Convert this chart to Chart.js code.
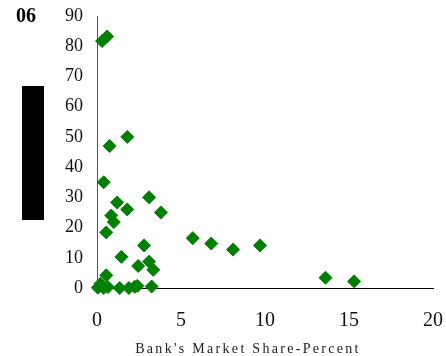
<!DOCTYPE html>
<html>
<head>
<meta charset="utf-8">
<script src="https://cdn.jsdelivr.net/npm/chart.js@4.4.1/dist/chart.umd.min.js"></script>
<style>
  html, body { margin: 0; padding: 0; background: #ffffff; }
  #wrap { width: 446px; height: 356px; position: relative; }
</style>
</head>
<body>
<div id="wrap"><canvas id="chart" width="446" height="356"></canvas></div>
<script>
// Bank market share (percent) against the plotted value for each bank
const shares = [0.3, 0.6, 1.8, 0.75, 0.4, 3.1, 1.2, 1.8, 3.8, 0.85, 1.0, 0.55,
                5.7, 6.8, 2.8, 9.7, 8.1, 1.45, 3.1, 2.45, 3.35, 0.55, 13.6, 15.3,
                0.05, 0.25, 0.4, 0.65, 1.35, 1.9, 2.25, 2.4, 3.25, 0.2];
const values = [81.7, 83.2, 50, 47, 35, 30, 28.3, 26, 25, 24, 21.8, 18.4,
                16.5, 14.7, 14.1, 14.1, 12.7, 10.3, 8.7, 7.3, 6.0, 4.2, 3.4, 2.2,
                0.1, 0.8, 0.0, 0.3, 0.0, 0.0, 0.4, 0.7, 0.5, 1.4];
const xTicks = [0, 5, 10, 15, 20];
const yTicks = [0, 10, 20, 30, 40, 50, 60, 70, 80, 90];
const xTitle = "Bank's Market Share-Percent";
const cornerLabel = "06";

const points = shares.map((s, i) => ({ x: s, y: values[i] }));
const serif = "'Liberation Serif', 'DejaVu Serif', serif";

// Extra text and the masked axis-title block
const decorations = {
  id: 'decorations',
  afterDraw(chart) {
    const ctx = chart.ctx;
    ctx.save();
    ctx.fillStyle = '#000';
    ctx.fillRect(22, 86, 22, 134);
    ctx.font = "bold 20px " + serif;
    ctx.textAlign = 'left';
    ctx.textBaseline = 'alphabetic';
    ctx.fillText(cornerLabel, 16, 22);
    ctx.font = "14px " + serif;
    ctx.fillStyle = '#222';
    ctx.letterSpacing = '2.3px';
    ctx.textAlign = 'left';
    const w = ctx.measureText(xTitle).width;
    ctx.fillText(xTitle, 248 - w / 2, 353);
    ctx.restore();
  }
};

new Chart(document.getElementById('chart'), {
  type: 'scatter',
  data: {
    datasets: [{
      data: points,
      pointStyle: 'rectRot',
      pointRadius: 6.5,
      pointHoverRadius: 6.5,
      backgroundColor: '#008000',
      borderColor: '#008000',
      borderWidth: 1,
      clip: false
    }]
  },
  options: {
    responsive: false,
    animation: false,
    events: [],
    layout: { padding: { left: 0, top: 16, right: 13, bottom: 0 } },
    plugins: { legend: { display: false }, tooltip: { enabled: false } },
    scales: {
      x: {
        type: 'linear',
        min: 0, max: 20,
        afterFit(scale) {
          scale.height = 68;
          scale.paddingLeft = 0;
          scale.paddingRight = 0;
        },
        afterBuildTicks(scale) { scale.ticks = xTicks.map(v => ({ value: v })); },
        grid: { display: false, drawOnChartArea: false, drawTicks: true, tickLength: 6, color: '#000' },
        border: { display: true, color: '#000', width: 1 },
        ticks: { color: '#111', padding: 15, font: { family: serif, size: 20 } }
      },
      y: {
        type: 'linear',
        min: 0, max: 90,
        afterFit(scale) {
          scale.width = 97;
          scale.paddingTop = 0;
          scale.paddingBottom = 0;
        },
        afterBuildTicks(scale) { scale.ticks = yTicks.map(v => ({ value: v })); },
        grid: { display: false, drawOnChartArea: false, drawTicks: true, tickLength: 7, color: '#444' },
        border: { display: true, color: '#555', width: 1 },
        ticks: { color: '#111', padding: 7, font: { family: serif, size: 18 } }
      }
    }
  },
  plugins: [decorations]
});
</script>
</body>
</html>
